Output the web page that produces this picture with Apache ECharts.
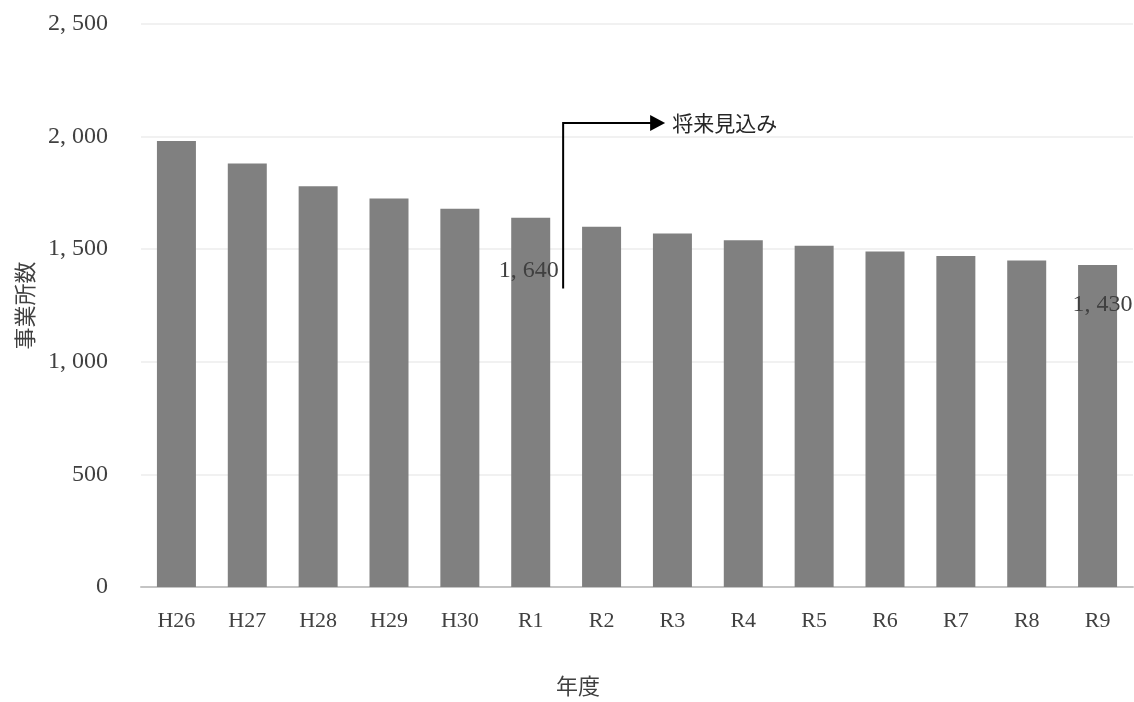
<!DOCTYPE html>
<html>
<head>
<meta charset="utf-8">
<script src="https://cdn.jsdelivr.net/npm/echarts@6/dist/echarts.min.js"></script>
<style>
  html, body { margin: 0; padding: 0; background: #fff; }
  #main { width: 1134px; height: 702px; }
</style>
</head>
<body>
<div id="main"></div>
<script>
// 年度
var years = ['H26', 'H27', 'H28', 'H29', 'H30', 'R1', 'R2', 'R3', 'R4', 'R5', 'R6', 'R7', 'R8', 'R9'];
// 事業所数
var counts = [1980, 1880, 1780, 1725, 1680, 1640, 1600, 1570, 1540, 1515, 1490, 1470, 1450, 1430];
// 値ラベルを出す年度
var labelYears = ['R1', 'R9'];
var yTicks = [0, 500, 1000, 1500, 2000, 2500];

var serif = '"Liberation Serif", "DejaVu Serif", serif';
var jp = '"Noto Sans CJK JP", sans-serif';

function fmt(v) {
  if (v < 1000) return String(v);
  var r = String(v % 1000);
  while (r.length < 3) r = '0' + r;
  return Math.floor(v / 1000) + ', ' + r;
}

var barData = [];
for (var i = 0; i < counts.length; i++) {
  var item = { value: counts[i] };
  if (labelYears.indexOf(years[i]) >= 0) {
    item.label = {
      show: true,
      position: 'top',
      offset: years[i] === 'R1' ? [-2, 70] : [5, 57]
    };
  }
  barData.push(item);
}

var chart = echarts.init(document.getElementById('main'));
var option = {
  animation: false,
  grid: { left: 141, right: 1, top: 24, bottom: 114 },
  xAxis: {
    type: 'category',
    data: years,
    name: '年度',
    nameLocation: 'middle',
    nameGap: 88,
    nameTextStyle: { fontFamily: jp, fontSize: 22, color: '#404040', padding: [0, 118, 0, 0] },
    axisLine: { lineStyle: { color: '#c4c4c4', width: 2 } },
    axisTick: { length: 5, lineStyle: { color: '#c4c4c4', width: 2 } },
    axisLabel: { margin: 23, fontFamily: serif, fontSize: 22, color: '#404040' }
  },
  yAxis: {
    type: 'value',
    min: yTicks[0],
    max: yTicks[yTicks.length - 1],
    interval: 500,
    name: '事業所数',
    nameLocation: 'middle',
    nameGap: 105,
    nameRotate: 90,
    nameTextStyle: { fontFamily: jp, fontSize: 22, color: '#404040' },
    axisLine: { show: false },
    axisTick: { show: false },
    splitLine: { lineStyle: { color: '#ececec', width: 1.5 } },
    axisLabel: { margin: 33, fontFamily: serif, fontSize: 24, color: '#404040', formatter: fmt }
  },
  series: [{
    type: 'bar',
    data: barData,
    barWidth: 39,
    itemStyle: { color: '#808080' },
    label: {
      show: false,
      fontFamily: serif,
      fontSize: 24,
      color: '#404040',
      formatter: function (p) { return fmt(p.value); }
    }
  }]
};
chart.setOption(option);

// 将来見込み の矢印（R1 と R2 の境目から）
var pR1 = chart.convertToPixel({ xAxisIndex: 0 }, 'R1');
var pR2 = chart.convertToPixel({ xAxisIndex: 0 }, 'R2');
var ax = (pR1 + pR2) / 2 - 3;
var yBottom = chart.convertToPixel({ yAxisIndex: 0 }, 1325);
var yTop = chart.convertToPixel({ yAxisIndex: 0 }, 2060);
var tipX = ax + 102;
chart.setOption({
  graphic: [
    {
      type: 'polyline',
      shape: { points: [[ax, yBottom], [ax, yTop], [tipX - 14, yTop]] },
      style: { stroke: '#000', lineWidth: 2, fill: null }
    },
    {
      type: 'polygon',
      shape: { points: [[tipX - 15, yTop - 8], [tipX, yTop], [tipX - 15, yTop + 8]] },
      style: { fill: '#000' }
    },
    {
      type: 'text',
      x: tipX + 7,
      y: yTop,
      style: { text: '将来見込み', font: '21px ' + jp, fill: '#262626', verticalAlign: 'middle' }
    }
  ]
});
</script>
</body>
</html>
